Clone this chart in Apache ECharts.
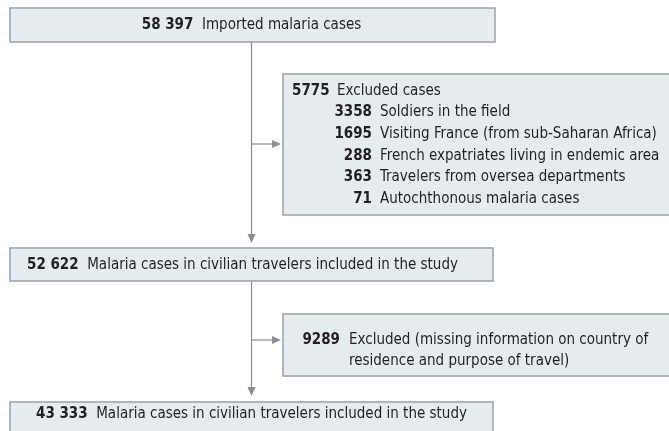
<!DOCTYPE html>
<html><head><meta charset="utf-8">
<script src="https://cdn.jsdelivr.net/npm/echarts@6/dist/echarts.min.js"></script>
<style>html,body{margin:0;padding:0;background:#fff}#c{width:669px;height:431px}</style>
</head><body><div id="c"></div>
<script>
// Flow data
var topCount = '58 397';
var topLabel = 'Imported malaria cases';
var excl1Count = '5775';
var excl1Label = 'Excluded cases';
var excl1SubCounts = ['3358', '1695', '288', '363', '71'];
var excl1SubLabels = ['Soldiers in the field', 'Visiting France (from sub-Saharan Africa)', 'French expatriates living in endemic area', 'Travelers from oversea departments', 'Autochthonous malaria cases'];
var midCount = '52 622';
var midLabel = 'Malaria cases in civilian travelers included in the study';
var excl2Count = '9289';
var excl2Lines = ['Excluded (missing information on country of', 'residence and purpose of travel)'];
var finalCount = '43 333';
var finalLabel = 'Malaria cases in civilian travelers included in the study';

var FONT = '"Liberation Sans Narrow", "DejaVu Sans Condensed", sans-serif';
var FS = 15;
var TXT = '#231f20';
var BOXFILL = '#e5ecf0';
var BOXSTROKE = '#9d9fa2';
var LINE = '#8a8c8f';

function box(x, y, w, h) {
  return {type: 'rect', shape: {x: x, y: y, width: w, height: h},
    style: {fill: BOXFILL, stroke: BOXSTROKE, lineWidth: 1.5}};
}
function richText(x, y, count, label, align) {
  return {type: 'text', x: x, y: y,
    style: {text: '{b|' + count + '}  ' + label, font: FS + 'px ' + FONT, fill: TXT,
      align: align || 'left', verticalAlign: 'middle',
      rich: {b: {fontWeight: 'bold', fontSize: FS, fontFamily: FONT, fill: TXT}}}};
}
function plain(x, y, t, bold, align) {
  return {type: 'text', x: x, y: y,
    style: {text: t, fontSize: FS, fontFamily: FONT, fontWeight: bold ? 'bold' : 'normal', fill: TXT,
      align: align || 'left', verticalAlign: 'middle'}};
}
function line(x1, y1, x2, y2) {
  return {type: 'line', shape: {x1: x1, y1: y1, x2: x2, y2: y2}, style: {stroke: LINE, lineWidth: 1.2}};
}
function arrowDown(x, y) {
  return {type: 'polygon', shape: {points: [[x - 4, y - 9], [x + 4, y - 9], [x, y]]}, style: {fill: LINE}};
}
function arrowRight(x, y) {
  return {type: 'polygon', shape: {points: [[x - 9, y - 4], [x - 9, y + 4], [x, y]]}, style: {fill: LINE}};
}

var g = [];
var cx = 251.5;
// connectors
g.push(line(cx, 42, cx, 240));
g.push(arrowDown(cx, 243));
g.push(line(cx, 144, 279, 144));
g.push(arrowRight(281, 144));
g.push(line(cx, 281, cx, 392));
g.push(arrowDown(cx, 396));
g.push(line(cx, 340, 279, 340));
g.push(arrowRight(281, 340));

// boxes
g.push(box(10, 8, 485, 34));
g.push(richText(cx, 25.5, topCount, topLabel, 'center'));

g.push(box(283, 74, 390, 141));
var y0 = 91;
var step = 21.6;
g.push(plain(292, y0, excl1Count, true));
g.push(plain(337, y0, excl1Label, false));
for (var i = 0; i < excl1SubCounts.length; i++) {
  var yy = y0 + step * (i + 1);
  g.push(plain(372, yy, excl1SubCounts[i], true, 'right'));
  g.push(plain(380, yy, excl1SubLabels[i], false));
}

g.push(box(10, 248, 483, 33));
g.push(richText(27, 265, midCount, midLabel));

g.push(box(283, 314, 390, 62));
g.push(plain(340, 340, excl2Count, true, 'right'));
g.push(plain(349, 340, excl2Lines[0], false));
g.push(plain(349, 361, excl2Lines[1], false));

g.push(box(10, 402, 483, 40));
g.push(richText(36, 414, finalCount, finalLabel));

var chart = echarts.init(document.getElementById('c'), null, {renderer: 'canvas'});
chart.setOption({animation: false, graphic: {elements: g}});
</script></body></html>
